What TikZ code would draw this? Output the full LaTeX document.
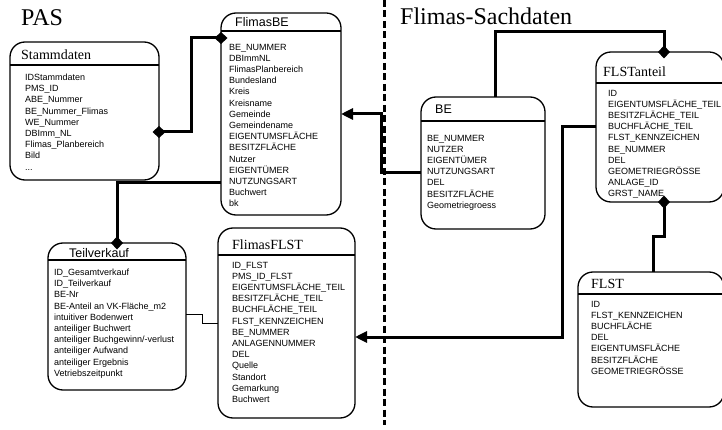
\documentclass[tikz,border=0pt]{standalone}
\usepackage{fontspec}
\setmainfont{Liberation Serif}
\setsansfont{Liberation Sans}
\usepackage{tikz}
\usetikzlibrary{arrows.meta}

\begin{document}
\begin{tikzpicture}[x=1pt,y=-1pt,
  entity/.style={draw, line width=1.3pt, rounded corners=15pt, anchor=north west,
    inner sep=0pt, outer sep=0pt},
  hline/.style={line width=1.3pt},
  stitle/.style={font=\sffamily\fontsize{12.5}{14}\selectfont, anchor=base west, inner sep=0pt},
  rtitle/.style={font=\rmfamily\fontsize{14}{16}\selectfont, anchor=base west, inner sep=0pt},
  attr/.style={font=\sffamily\fontsize{9}{11.2}\selectfont, align=left, anchor=north west, inner sep=0pt},
  rel/.style={line width=3pt},
  hasend/.style={-{Diamond[length=13pt,width=12pt]}, shorten >=-6.5pt},
  hasstart/.style={{Diamond[length=13pt,width=12pt]}-, shorten <=-6.5pt},
  hasboth/.style={{Diamond[length=13pt,width=12pt]}-{Diamond[length=13pt,width=12pt]},
    shorten <=-6.5pt, shorten >=-6.5pt},
  refers/.style={-{Triangle[length=12pt,width=11pt]}}]
  \useasboundingbox (0,0) rectangle (722,430);

  % headings and divider
  \node[font=\rmfamily\fontsize{24}{26}\selectfont, anchor=base west, inner sep=0pt] (pas) at (21,26) {PAS};
  \node[font=\rmfamily\fontsize{24}{26}\selectfont, anchor=base west, inner sep=0pt] (sach) at (400,25) {Flimas-Sachdaten};
  \draw[line width=3pt, dash pattern=on 7pt off 3.5pt] (384,0) -- (384,425);

  % Stammdaten
  \node[entity, minimum width=149pt, minimum height=138pt] (stamm) at (10,42) {};
  \draw[hline] (stamm.west |- 0,65) -- (stamm.east |- 0,65);
  \node[rtitle] (stamm-t) at (21,60) {Stammdaten};
  \node[attr] (stamm-a) at (25,73.7) {IDStammdaten\\PMS\_ID\\ABE\_Nummer\\BE\_Nummer\_Flimas\\WE\_Nummer\\DBImm\_NL\\Flimas\_Planbereich\\Bild\\...};

  % FlimasBE
  \node[entity, minimum width=120pt, minimum height=202pt] (flimasbe) at (221,13) {};
  \draw[hline] (flimasbe.west |- 0,31) -- (flimasbe.east |- 0,31);
  \node[stitle] (flimasbe-t) at (235,27) {FlimasBE};
  \node[attr] (flimasbe-a) at (229,43.7) {BE\_NUMMER\\DBImmNL\\FlimasPlanbereich\\Bundesland\\Kreis\\Kreisname\\Gemeinde\\Gemeindename\\EIGENTUMSFLÄCHE\\BESITZFLÄCHE\\Nutzer\\EIGENTÜMER\\NUTZUNGSART\\Buchwert\\bk};

  % Teilverkauf
  \node[entity, minimum width=138pt, minimum height=147pt] (teilvk) at (48,243) {};
  \draw[hline] (teilvk.west |- 0,260) -- (teilvk.east |- 0,260);
  \node[stitle] (teilvk-t) at (69,257) {Teilverkauf};
  \node[attr] (teilvk-a) at (54,268.7) {ID\_Gesamtverkauf\\ID\_Teilverkauf\\BE-Nr\\BE-Anteil an VK-Fläche\_m2\\intuitiver Bodenwert\\anteiliger Buchwert\\anteiliger Buchgewinn/-verlust\\anteiliger Aufwand\\anteiliger Ergebnis\\Vetriebszeitpunkt};

  % FlimasFLST
  \node[entity, minimum width=137pt, minimum height=190pt] (flimasflst) at (218,228) {};
  \draw[hline] (flimasflst.west |- 0,255) -- (flimasflst.east |- 0,255);
  \node[rtitle] (flimasflst-t) at (232,249) {FlimasFLST};
  \node[attr] (flimasflst-a) at (232,261.7) {ID\_FLST\\PMS\_ID\_FLST\\EIGENTUMSFLÄCHE\_TEIL\\BESITZFLÄCHE\_TEIL\\BUCHFLÄCHE\_TEIL\\FLST\_KENNZEICHEN\\BE\_NUMMER\\ANLAGENNUMMER\\DEL\\Quelle\\Standort\\Gemarkung\\Buchwert};

  % BE
  \node[entity, minimum width=124pt, minimum height=132pt] (be) at (421,97) {};
  \draw[hline] (be.west |- 0,121) -- (be.east |- 0,121);
  \node[stitle] (be-t) at (435,114) {BE};
  \node[attr] (be-a) at (427,134.7) {BE\_NUMMER\\NUTZER\\EIGENTÜMER\\NUTZUNGSART\\DEL\\BESITZFLÄCHE\\Geometriegroess};

  % FLSTanteil
  \node[entity, minimum width=128pt, minimum height=150pt] (flstanteil) at (596,52) {};
  \draw[hline] (flstanteil.west |- 0,83) -- (flstanteil.east |- 0,83);
  \node[rtitle] (flstanteil-t) at (603,77) {FLSTanteil};
  \node[attr] (flstanteil-a) at (608,89.7) {ID\\EIGENTUMSFLÄCHE\_TEIL\\BESITZFLÄCHE\_TEIL\\BUCHFLÄCHE\_TEIL\\FLST\_KENNZEICHEN\\BE\_NUMMER\\DEL\\GEOMETRIEGRÖSSE\\ANLAGE\_ID\\GRST\_NAME};

  % FLST
  \node[entity, minimum width=146pt, minimum height=135pt] (flst) at (578,272) {};
  \draw[hline] (flst.west |- 0,294) -- (flst.east |- 0,294);
  \node[rtitle] (flst-t) at (591,288) {FLST};
  \node[attr] (flst-a) at (591,300.7) {ID\\FLST\_KENNZEICHEN\\BUCHFLÄCHE\\DEL\\EIGENTUMSFLÄCHE\\BESITZFLÄCHE\\GEOMETRIEGRÖSSE};

  % relations
  \draw[rel, hasboth] ([yshift=-21pt]stamm.east) -- ++(32,0) |- ([yshift=76pt]flimasbe.west);
  \draw[rel, hasend] ([yshift=-69pt]flimasbe.west) -| (teilvk.north);
  \draw[rel, refers] ([yshift=-10pt]be.west) -- ++(-40,0) |- (flimasbe.east);
  \draw[rel, hasend] ([xshift=12pt]be.north) -- ++(0,-65) -| ([xshift=4pt]flstanteil.north);
  \draw[rel, hasstart] ([xshift=4pt]flstanteil.south) -- ++(0,35) -| ([xshift=2pt]flst.north);
  \draw[rel, refers] (flstanteil.west) -- ++(-34,0) |- ([yshift=-14pt]flimasflst.east);
  \draw[line width=1pt] ([yshift=2.5pt]teilvk.east) -- ++(16,0) |- (flimasflst.west);
\end{tikzpicture}
\end{document}
